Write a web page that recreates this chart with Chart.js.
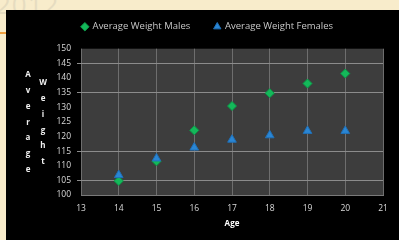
<!DOCTYPE html>
<html>
<head>
<meta charset="utf-8">
<script src="https://cdn.jsdelivr.net/npm/chart.js@4"></script>
<style>
  html, body { margin: 0; padding: 0; }
  body { width: 399px; height: 240px; background: #f8eccb; position: relative; overflow: hidden; font-family: "Open Sans", sans-serif; }
  #slideTitle { position: absolute; left: -4px; top: -14px; font-size: 26px; color: #e6dcc0; letter-spacing: 1px; }
  #orangeLine { position: absolute; left: 0; top: 32px; width: 6px; height: 2px; background: #f0a040; }
  #box { position: absolute; left: 6px; top: 10px; width: 393px; height: 230px; background: #000; }
  canvas { display: block; }
</style>
</head>
<body>
<div id="slideTitle">2012</div>
<div id="orangeLine"></div>
<div id="box"><canvas id="myChart" width="393" height="230"></canvas></div>
<script>
// values
const ages = [14, 15, 16, 17, 18, 19, 20];
const maleWeights = [104.8, 111.5, 122.1, 130.4, 134.8, 138.1, 141.5];
const femaleWeights = [106.8, 112.5, 116.2, 118.9, 120.4, 121.9, 121.9];
const xTicks = [13, 14, 15, 16, 17, 18, 19, 20, 21];
const yTitleLeft = "Average";
const yTitleRight = "Weight";

const ctx = document.getElementById("myChart").getContext("2d");
const FONT = 'Open Sans';

function toPoints(xs, ys) {
  return xs.map((x, i) => ({ x: x, y: ys[i] }));
}

// gray plot background
const plotBg = {
  id: 'plotBg',
  beforeDraw(chart) {
    const a = chart.chartArea;
    const c = chart.ctx;
    c.save();
    c.fillStyle = '#3d3d3d';
    c.fillRect(a.left, a.top, a.right - a.left, a.bottom - a.top);
    c.restore();
  }
};

// stacked letters for the y title, like Excel does
const stackedTitle = {
  id: 'stackedTitle',
  afterDraw(chart) {
    const c = chart.ctx;
    c.save();
    c.fillStyle = '#f0f0f0';
    c.font = 'bold 8px "Open Sans"';
    c.textAlign = 'center';
    c.textBaseline = 'middle';
    yTitleLeft.split('').forEach((ch, i) => c.fillText(ch, 22, 65 + i * 15.8));
    yTitleRight.split('').forEach((ch, i) => c.fillText(ch, 37, 73 + i * 15.8));
    c.restore();
  }
};

const gridOn = [105, 115, 135, 145];

const chart = new Chart(ctx, {
  type: 'scatter',
  data: {
    datasets: [{
      label: 'Average Weight Males',
      data: toPoints(ages, maleWeights),
      pointStyle: 'rectRot',
      pointRadius: 4.5,
      backgroundColor: '#14b85a',
      borderColor: '#0a9a48',
      borderWidth: 1,
      order: 1
    }, {
      label: 'Average Weight Females',
      data: toPoints(ages, femaleWeights),
      pointStyle: 'triangle',
      pointRadius: 5,
      backgroundColor: '#2a86d4',
      borderColor: '#1f70b8',
      borderWidth: 1,
      order: 0
    }]
  },
  options: {
    responsive: false,
    animation: false,
    layout: { padding: { left: 26, right: 16, top: -12, bottom: 9 } },
    plugins: {
      legend: {
        display: true,
        position: 'top',
        labels: {
          usePointStyle: true,
          boxWidth: 6,
          boxHeight: 6,
          padding: 24,
          color: '#c8c8c8',
          font: { family: FONT, size: 9.5 },
          sort: (a, b) => a.datasetIndex - b.datasetIndex
        }
      },
      // empty spacer between legend and plot
      subtitle: {
        display: true,
        text: ' ',
        weight: 500,
        font: { size: 1 },
        padding: { top: 3, bottom: 3 }
      },
      tooltip: { enabled: false }
    },
    scales: {
      x: {
        type: 'linear',
        min: 13,
        max: 21,
        afterBuildTicks: (scale) => { scale.ticks = xTicks.map(v => ({ value: v })); },
        afterFit: (scale) => { scale.height = 36; },
        ticks: { color: '#d9d9d9', font: { family: FONT, size: 8.5 }, padding: 8 },
        grid: { color: '#6e6e6e', drawTicks: false },
        border: { display: true, color: '#7a7a7a' },
        title: { display: true, text: 'Age', color: '#ffffff', font: { family: FONT, size: 8, weight: 'bold' }, padding: { top: 4, bottom: 2 } }
      },
      y: {
        min: 100,
        max: 150,
        afterFit: (scale) => { scale.width = 49; },
        ticks: { stepSize: 5, autoSkip: false, color: '#d9d9d9', font: { family: FONT, size: 8.5 }, padding: 6 },
        grid: {
          color: (c) => gridOn.includes(c.tick.value) ? '#8c8c8c' : 'rgba(0,0,0,0)',
          tickLength: 4
        },
        border: { display: false }
      }
    }
  },
  plugins: [plotBg, stackedTitle]
});
</script>
</body>
</html>
